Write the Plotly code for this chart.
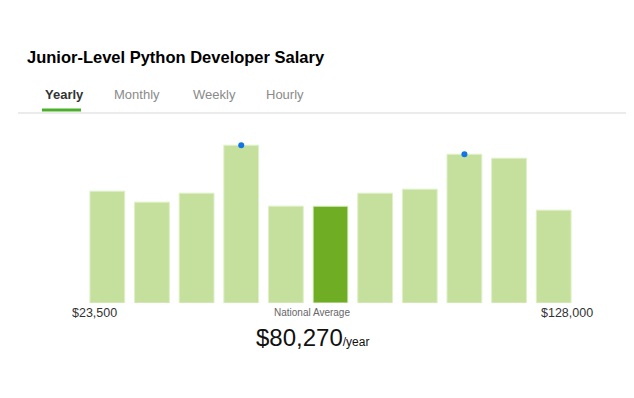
import plotly.graph_objects as go

# ---- data ----
bins = list(range(11))
counts = [112, 101, 110, 158, 97, 97, 110, 114, 149, 145, 93]
highlight_index = 5
marker_bins = [3, 8]
min_label = "$23,500"
max_label = "$128,000"
avg_label = "$80,270"
tabs = ["Yearly", "Monthly", "Weekly", "Hourly"]
title_text = "Junior-Level Python Developer Salary"

W, H = 634, 398
OFF = 8  # page body margin
L, T = 85 - OFF, 100 - OFF
PW, PH = 490.6, 203.3
R = W - L - PW
B = H - T - PH


def px(x):
    return (x - OFF - L) / PW


def py(y):
    return (T + PH - (y - OFF)) / PH


light = "#c4e09c"
dark = "#6fae24"
colors = [dark if i == highlight_index else light for i in bins]

fig = go.Figure()
fig.add_trace(go.Bar(
    x=bins, y=counts, marker=dict(color=colors, line=dict(color="#dff0c8", width=1)),
    hoverinfo="skip", showlegend=False,
))
fig.add_trace(go.Scatter(
    x=marker_bins, y=[counts[i] for i in marker_bins], mode="markers",
    marker=dict(color="#1274e6", size=6), hoverinfo="skip", showlegend=False,
))

ann = []
ann.append(dict(text="<b>" + title_text + "</b>", x=px(25), y=py(57), xanchor="left", yanchor="middle",
                font=dict(family="Liberation Sans", size=16.5, color="#000")))
tab_x = [43, 112, 191, 264]
for i, (t, x) in enumerate(zip(tabs, tab_x)):
    ann.append(dict(text=("<b>" + t + "</b>") if i == 0 else t, x=px(x), y=py(94),
                    xanchor="left", yanchor="middle",
                    font=dict(family="Liberation Sans", size=13, color="#333" if i == 0 else "#8a8a8a")))
ann.append(dict(text=min_label, x=px(70), y=py(313), xanchor="left", yanchor="middle",
                font=dict(family="Liberation Sans", size=12.5, color="#333")))
ann.append(dict(text=max_label, x=px(595), y=py(313), xanchor="right", yanchor="middle",
                font=dict(family="Liberation Sans", size=12.5, color="#333")))
ann.append(dict(text="National Average", x=px(312), y=py(313), xanchor="center", yanchor="middle",
                font=dict(family="Liberation Sans", size=10, color="#666")))
ann.append(dict(text=avg_label + "<span style='font-size:12px'>/year</span>", x=px(312), y=py(338),
                xanchor="center", yanchor="middle",
                font=dict(family="Liberation Sans", size=24, color="#111")))
for a in ann:
    a.update(xref="paper", yref="paper", showarrow=False)

shapes = [
    dict(type="line", xref="paper", yref="paper", x0=px(18), x1=px(634), y0=py(113), y1=py(113),
         line=dict(color="#e4e4e4", width=1.5)),
    dict(type="line", xref="paper", yref="paper", x0=px(42), x1=px(81), y0=py(110), y1=py(110),
         line=dict(color="#4caf2c", width=3)),
]

fig.update_layout(
    width=W, height=H, margin=dict(l=L, r=R, t=T, b=B),
    paper_bgcolor="white", plot_bgcolor="white",
    bargap=0.22,
    xaxis=dict(range=[-0.5, 10.5], visible=False, fixedrange=True),
    yaxis=dict(range=[0, PH], visible=False, fixedrange=True),
    annotations=ann, shapes=shapes,
)
fig.write_html("out.html", config={"displayModeBar": False})
